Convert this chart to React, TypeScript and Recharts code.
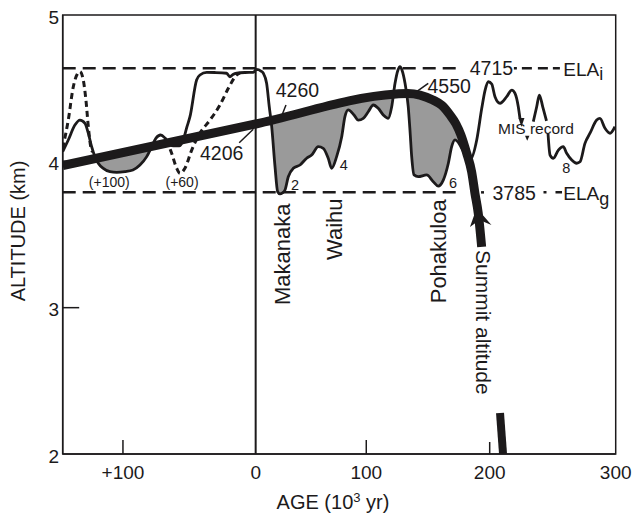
import React from 'react'
import {
  ComposedChart,
  Line,
  Area,
  XAxis,
  YAxis,
  ReferenceLine,
  ReferenceDot,
} from 'recharts'

const INK = '#1c1a1b'
const FILL = '#9a9a9a'
const FONT = '"Liberation Sans", Arial, Helvetica, sans-serif'

// ages in 10^3 yr (negative = future, labelled "+100"), altitudes in km
const TICK_AGES = [-100, 0, 100, 200, 300]
const TICK_LABELS = ['+100', '0', '100', '200', '300']
// the original axis is hand-spaced: drawn length of one kyr in each tick interval
const TICK_SPACING = [1.327, 1.106, 1.234, 1.26]
const AGE_MIN = -145.4
const AGE_MAX = 300
const ALT_TICKS = [2, 3, 4, 5]

const ELA_I = 4.636
const ELA_G = 3.788

// thick summit-altitude curve (upper run and the piece below the label)
const summitAltitude: [number, number][] = [
  [-145.4, 3.971], [0, 4.255], [124.1, 4.46], [133.8, 4.464], [143.5, 4.453],
  [154, 4.419], [161.3, 4.382], [167.8, 4.317], [172.7, 4.255], [176.7, 4.18],
  [181.3, 4.057], [185.4, 3.927], [188, 3.784], [190.7, 3.647], [193.5, 3.415],
]
const summitLower: [number, number][] = [[208.2, 2.28], [210.6, 2.0]]

// solid glacial / MIS record
const glacialRecord: [number, number][] = [
  [-145.4, 4.066], [-141.2, 4.146], [-136.2, 4.248], [-132.4, 4.282], [-128.6, 4.26],
  [-126.1, 4.192], [-123.6, 4.1], [-121.1, 4.032], [-118.6, 3.987], [-114.8, 3.952],
  [-109.8, 3.929], [-104.7, 3.925], [-98.5, 3.93], [-92.5, 3.941], [-87.2, 3.975],
  [-82.1, 4.032], [-78.1, 4.105], [-75.1, 4.159], [-71.6, 4.18], [-68.3, 4.159],
  [-65.3, 4.125], [-62.1, 4.105], [-57.6, 4.105], [-54.6, 4.146], [-51.8, 4.235],
  [-49.5, 4.305], [-44.5, 4.556], [-42, 4.59], [-36.9, 4.608], [-30.7, 4.607],
  [-21.9, 4.602], [-19.4, 4.578], [-17.1, 4.593], [-14.3, 4.602], [-8.1, 4.607],
  [-1.8, 4.608], [0.9, 4.629], [4.8, 4.617], [6.9, 4.602], [9.9, 4.533],
  [12.3, 4.373], [14.5, 4.237], [17.5, 3.963], [19.9, 3.792], [22, 3.777],
  [24.2, 3.784], [26.5, 3.804], [29.5, 3.895], [34, 3.952], [40.1, 3.975],
  [46.1, 4.021], [50.6, 4.043], [56.6, 4.1], [61.1, 4.089], [65.6, 4.021],
  [68.7, 3.952], [73.2, 4.032], [77.8, 4.168], [80.7, 4.305], [83.7, 4.351],
  [88.9, 4.317], [92.8, 4.282], [97.3, 4.294], [101.6, 4.339], [105.7, 4.385],
  [109.7, 4.362], [113.8, 4.317], [117.8, 4.294], [120.6, 4.373], [123.3, 4.533],
  [125.7, 4.624], [127.3, 4.647], [128.9, 4.624], [131.4, 4.533], [134, 4.373],
  [135.4, 4.214], [136.8, 4.032], [138.7, 3.907], [142.1, 3.895], [148.9, 3.907],
  [154.3, 3.861], [158.3, 3.831], [162.4, 3.872], [166.5, 3.987], [169.2, 4.1],
  [171.9, 4.146], [184.1, 4.009], [189.5, 4.146], [193.6, 4.364], [196.3, 4.487],
  [199, 4.544], [201.6, 4.528], [204.2, 4.442], [208.2, 4.397], [213.5, 4.442],
  [217.5, 4.487], [220.1, 4.465], [222.7, 4.373], [224, 4.294],
]
const misRecordB: [number, number][] = [
  [234.6, 4.271], [237.3, 4.373], [239.4, 4.453], [242.1, 4.373], [245.1, 4.276],
]
const misRecordC: [number, number][] = [
  [246.3, 4.187], [247.9, 4.043], [250.5, 4.021], [254.5, 4.077], [258.4, 4.1],
  [261.1, 4.055], [265.1, 4.009], [269, 3.987], [271.7, 3.997], [275.6, 4.123],
  [279.6, 4.192], [284.9, 4.282], [287.5, 4.294], [291.5, 4.226], [295.5, 4.192],
  [299.4, 4.237],
]

// dotted future scenarios
const futureA: [number, number][] = [
  [-145.4, 4.089], [-141.2, 4.282], [-137.4, 4.51], [-134.4, 4.597], [-132.4, 4.613],
  [-129.9, 4.556], [-127.9, 4.419], [-126.1, 4.237], [-124.3, 4.1], [-123, 4.064],
]
const futureB: [number, number][] = [
  [-67.1, 4.146], [-63.3, 4.055], [-59.5, 3.952], [-57, 3.918], [-53.3, 3.952],
  [-48.2, 4.077], [-42, 4.192], [-34.4, 4.282], [-26.9, 4.385], [-20.6, 4.499],
  [-14.3, 4.59], [-11.8, 4.604],
]

// text annotations: [text, age, altitude of baseline anchor, kind]
const notes: [string, number, number, string][] = [
  ['4260', 37.8, 4.438, 'value'],
  ['4206', -25.6, 4.009, 'value'],
  ['4550', 167.2, 4.465, 'value'],
  ['4715', 201.4, 4.59, 'value'],
  ['3785', 219.4, 3.736, 'value'],
  ['(+100)', -110.3, 3.825, 'small'],
  ['(+60)', -55.5, 3.825, 'small'],
  ['2', 35.5, 3.804, 'stage'],
  ['4', 79.6, 3.941, 'stage'],
  ['6', 170.3, 3.818, 'stage'],
  ['8', 260.8, 3.922, 'stage'],
  ['MIS record', 236.7, 4.187, 'mis'],
  ['Makanaka', 31.0, 3.018, 'up'],
  ['Waihu', 77.8, 3.326, 'up'],
  ['Pohakuloa', 164.8, 3.03, 'up'],
  ['Summit altitude', 188.8, 3.394, 'down'],
]
// ELA labels with subscripts: [text, subscript, age, altitude]
const elaLabels: [string, string, number, number][] = [
  ['ELA', 'i', 258.4, 4.583],
  ['ELA', 'g', 258.4, 3.736],
]
// leader lines from values to the summit curve
const leaders: [number, number, number, number][] = [
  [27.4, 4.385, 23.5, 4.31],
  [-12.4, 4.127, -1.8, 4.219],
  [140.8, 4.476, 150.2, 4.533],
]

const warp = (age: number) => {
  if (age <= TICK_AGES[0]) return (age - TICK_AGES[0]) * TICK_SPACING[0]
  let u = 0
  for (let i = 0; i < TICK_SPACING.length; i++) {
    const a0 = TICK_AGES[i]
    const a1 = TICK_AGES[i + 1]
    if (age <= a1 || i === TICK_SPACING.length - 1) return u + (age - a0) * TICK_SPACING[i]
    u += (a1 - a0) * TICK_SPACING[i]
  }
  return u
}

const toPts = (arr: [number, number][]) => arr.map(([age, alt]) => ({ u: warp(age), alt }))

const summitPts = toPts(summitAltitude)
const recordPts = toPts(glacialRecord)

// shaded band where the record lies below the summit curve
const summitAt = (u: number) => {
  for (let i = 0; i < summitPts.length - 1; i++) {
    const a = summitPts[i]
    const b = summitPts[i + 1]
    if (u >= a.u && u <= b.u) return a.alt + ((b.alt - a.alt) * (u - a.u)) / (b.u - a.u)
  }
  return null
}
const bandPts = recordPts.map((p) => {
  const s = summitAt(p.u)
  return { u: p.u, band: [p.alt, s !== null && s > p.alt ? s : p.alt] }
})

const NOTE_STYLE: Record<string, { size: number; anchor: string; rotate?: number }> = {
  value: { size: 19.5, anchor: 'middle' },
  small: { size: 14, anchor: 'middle' },
  stage: { size: 14.5, anchor: 'middle' },
  mis: { size: 15.5, anchor: 'middle' },
  up: { size: 22, anchor: 'start', rotate: -90 },
  down: { size: 21, anchor: 'start', rotate: 90 },
}

const X_TICK_LEN = [14, 0, 14, 12, 0]

const XTick = (props: any) => {
  const { x, y, payload } = props
  const i = TICK_AGES.findIndex((a) => Math.abs(warp(a) - payload.value) < 0.01)
  const len = X_TICK_LEN[i] || 0
  return (
    <g>
      {len > 0 && <line x1={x} y1={y} x2={x} y2={y - len} stroke={INK} strokeWidth={1.5} />}
      <text x={x} y={y + 25} textAnchor="middle" fontSize={19} fill={INK} fontFamily={FONT}>
        {TICK_LABELS[i]}
      </text>
    </g>
  )
}

const YTick = (props: any) => {
  const { x, y, payload } = props
  const inner = payload.value === 3 || payload.value === 4
  return (
    <g>
      {inner && <line x1={x} y1={y} x2={x + 16.5} y2={y} stroke={INK} strokeWidth={1.5} />}
      <text x={x - 3.5} y={y + 8.5} textAnchor="end" fontSize={19} fill={INK} fontFamily={FONT}>
        {payload.value}
      </text>
    </g>
  )
}

// x-axis title; also closes the plot frame (top and right edges)
const XTitle = () => (
  <g>
    <rect x={62.7} y={15} width={553} height={439} fill="none" stroke={INK} strokeWidth={1.5} />
    <text x={333} y={509} textAnchor="middle" fontSize={20} fill={INK} fontFamily={FONT}>
      AGE (10
      <tspan dy={-7} fontSize={13}>3</tspan>
      <tspan dy={7}> yr)</tspan>
    </text>
  </g>
)

const YTitle = () => (
  <text
    x={25}
    y={231}
    textAnchor="middle"
    fontSize={20}
    fill={INK}
    fontFamily={FONT}
    transform="rotate(-90 25 231)"
  >
    ALTITUDE (km)
  </text>
)

const noteShape = (text: string, kind: string) => (p: any) => {
  const st = NOTE_STYLE[kind]
  const { cx, cy } = p
  return (
    <text
      x={cx}
      y={cy}
      fontSize={st.size}
      textAnchor={st.anchor as any}
      fill={INK}
      fontFamily={FONT}
      transform={st.rotate ? `rotate(${st.rotate} ${cx} ${cy})` : undefined}
    >
      {text}
    </text>
  )
}

const elaShape = (text: string, sub: string) => (p: any) => (
  <text x={p.cx} y={p.cy} fontSize={19} fill={INK} fontFamily={FONT}>
    {text}
    <tspan dy={sub === 'g' ? 5 : 4} fontSize={18}>{sub}</tspan>
  </text>
)

const summitArrow = (p: any) => {
  const { cx, cy } = p
  return (
    <path
      d={`M ${cx - 1.8} ${cy - 10} L ${cx + 13} ${cy + 7} L ${cx + 1} ${cy + 2} L ${cx - 8.5} ${cy + 9} Z`}
      fill={INK}
    />
  )
}

const smallArrow = (w: number, h: number) => (p: any) => {
  const { cx, cy } = p
  return (
    <path
      d={`M ${cx - w} ${cy - h * 0.45} L ${cx + w} ${cy - h * 0.45} L ${cx} ${cy + h * 0.55} Z`}
      fill={INK}
    />
  )
}

const seg = (a1: number, v1: number, a2: number, v2: number) =>
  [{ x: warp(a1), y: v1 }, { x: warp(a2), y: v2 }] as any

export default function App() {
  return (
    <div style={{ position: 'absolute', left: 0, top: 0, background: '#fff' }}>
      <ComposedChart width={633} height={515} margin={{ top: 15, right: 17.3, bottom: 0, left: 0 }}>
        <XAxis
          type="number"
          dataKey="u"
          domain={[warp(AGE_MIN), warp(AGE_MAX)]}
          allowDataOverflow
          ticks={TICK_AGES.map(warp)}
          interval={0}
          height={61}
          tickSize={0}
          tickMargin={0}
          tickLine={false}
          tick={<XTick />}
          axisLine={{ stroke: INK, strokeWidth: 1.5 }}
          label={XTitle}
        />
        <YAxis
          type="number"
          domain={[2, 5]}
          allowDataOverflow
          ticks={ALT_TICKS}
          interval={0}
          width={62.7}
          tickSize={0}
          tickMargin={0}
          tickLine={false}
          tick={<YTick />}
          axisLine={{ stroke: INK, strokeWidth: 1.5 }}
          label={YTitle}
        />

        <Area
          data={bandPts}
          dataKey="band"
          type="monotone"
          stroke="none"
          fill={FILL}
          fillOpacity={1}
          isAnimationActive={false}
          activeDot={false}
        />

        <ReferenceLine x={warp(0)} stroke={INK} strokeWidth={2} />

        {/* ELA lines */}
        <ReferenceLine segment={seg(AGE_MIN, ELA_I, 175.9, ELA_I)} stroke={INK} strokeWidth={2.5} strokeDasharray="13 7" />
        <ReferenceLine segment={seg(219.2, ELA_I, 255.8, ELA_I)} stroke={INK} strokeWidth={2.5} strokeDasharray="3 5 10 6 10 5 7" />
        <ReferenceLine segment={seg(AGE_MIN, ELA_G, 177.6, ELA_G)} stroke={INK} strokeWidth={2.5} strokeDasharray="13 7" />
        <ReferenceLine segment={seg(193.0, ELA_G, 195.4, ELA_G)} stroke={INK} strokeWidth={2.5} />
        <ReferenceLine segment={seg(242.7, ELA_G, 257.4, ELA_G)} stroke={INK} strokeWidth={2.5} strokeDasharray="3 9 7" />

        {leaders.map(([a1, v1, a2, v2], i) => (
          <ReferenceLine key={`ld-${i}`} segment={seg(a1, v1, a2, v2)} stroke={INK} strokeWidth={1.5} />
        ))}

        <Line data={toPts(futureA)} dataKey="alt" type="monotone" stroke={INK} strokeWidth={3} strokeDasharray="6 4" dot={false} activeDot={false} isAnimationActive={false} />
        <Line data={toPts(futureB)} dataKey="alt" type="monotone" stroke={INK} strokeWidth={3} strokeDasharray="6 4" dot={false} activeDot={false} isAnimationActive={false} />
        <Line data={recordPts} dataKey="alt" type="monotone" stroke={INK} strokeWidth={2.8} strokeLinejoin="round" dot={false} activeDot={false} isAnimationActive={false} />
        <Line data={toPts(misRecordB)} dataKey="alt" type="monotone" stroke={INK} strokeWidth={2.8} dot={false} activeDot={false} isAnimationActive={false} />
        <Line data={toPts(misRecordC)} dataKey="alt" type="monotone" stroke={INK} strokeWidth={2.8} dot={false} activeDot={false} isAnimationActive={false} />
        <Line data={summitPts} dataKey="alt" type="monotone" stroke={INK} strokeWidth={9} dot={false} activeDot={false} isAnimationActive={false} />
        <Line data={toPts(summitLower)} dataKey="alt" type="linear" stroke={INK} strokeWidth={8} dot={false} activeDot={false} isAnimationActive={false} />

        <ReferenceDot x={warp(190.9)} y={3.613} r={1} shape={summitArrow} />
        <ReferenceDot x={warp(225.2)} y={4.269} r={1} shape={smallArrow(3, 9)} />
        <ReferenceDot x={warp(229.8)} y={4.159} r={1} shape={smallArrow(2.2, 5)} />

        {notes.map(([text, age, alt, kind], i) => (
          <ReferenceDot key={`n-${i}`} x={warp(age)} y={alt} r={1} shape={noteShape(text, kind)} />
        ))}
        {elaLabels.map(([text, sub, age, alt], i) => (
          <ReferenceDot key={`e-${i}`} x={warp(age)} y={alt} r={1} shape={elaShape(text, sub)} />
        ))}
      </ComposedChart>
    </div>
  )
}
